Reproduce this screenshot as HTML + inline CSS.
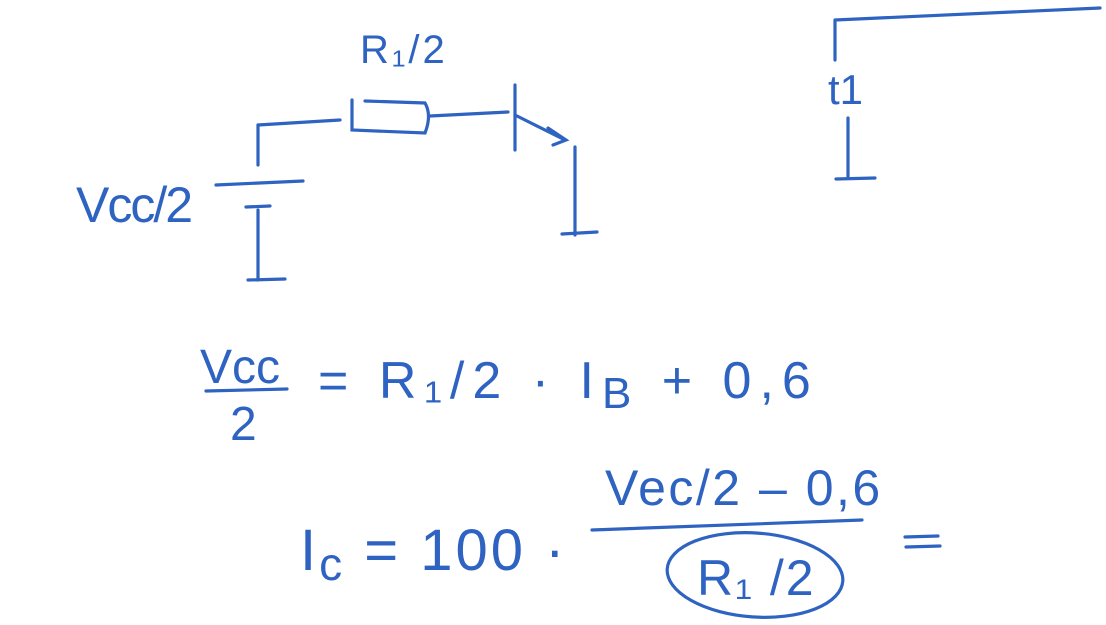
<!DOCTYPE html>
<html><head><meta charset="utf-8"><style>
html,body{margin:0;padding:0;background:#fff;}
svg{display:block;}
text{font-family:"Liberation Sans",sans-serif;fill:#2f63c2;}
</style></head><body>
<svg width="1106" height="625" viewBox="0 0 1106 625" stroke="#2f63c2" stroke-width="3.2" fill="none" stroke-linecap="round">
<g>
<text x="360" y="63" font-size="40" stroke="none" letter-spacing="3">R₁/2</text>
<path d="M258 125 L340 120"/>
<path d="M352 100 L352 130 L425 133 Q432 115 425 103 L365 101"/>
<path d="M430 116 L508 112"/>
<path d="M515 85 L515 150"/>
<path d="M515 115 L565 140 M548 128 L566 140 L553 145"/>
<path d="M575 147 L575 235 M562 234 L597 232"/>
<path d="M258 125 L258 165 M216 185 L303 181 M246 207 L270 206 M258 210 L258 280 M248 280 L285 279"/>
<text x="76" y="222" font-size="50" stroke="none" letter-spacing="-2">Vcc/2</text>
</g>
<g>
<path d="M835 20 L1100 8 M835 20 L835 60 M848 118 L848 178 M836 179 L875 178"/>
<text x="828" y="104" font-size="42" stroke="none">t1</text>
</g>
<g>
<text x="200" y="383" font-size="48" stroke="none">Vcc</text>
<path d="M206 391 L287 389"/>
<text x="230" y="440" font-size="48" stroke="none">2</text>
<text x="318" y="398" font-size="52" stroke="none" letter-spacing="8">= R₁/2 · I<tspan font-size="44" dy="10">B</tspan><tspan dy="-10"> + 0,6</tspan></text>
</g>
<g>
<text x="300" y="570" font-size="58" stroke="none" letter-spacing="3">I<tspan font-size="46" dy="10">c</tspan><tspan dy="-10"> = 100 ·</tspan></text>
<text x="605" y="505" font-size="50" stroke="none" letter-spacing="2.5">Vec/2 – 0,6</text>
<path d="M592 530 L862 520"/>
<text x="697" y="595" font-size="50" stroke="none" letter-spacing="2">R₁ /2</text>
<ellipse cx="755" cy="575" rx="88" ry="42" transform="rotate(4 755 575)"/>
<path d="M905 537 L938 536 M906 547 L940 546"/>
</g>
</svg>
</body></html>
